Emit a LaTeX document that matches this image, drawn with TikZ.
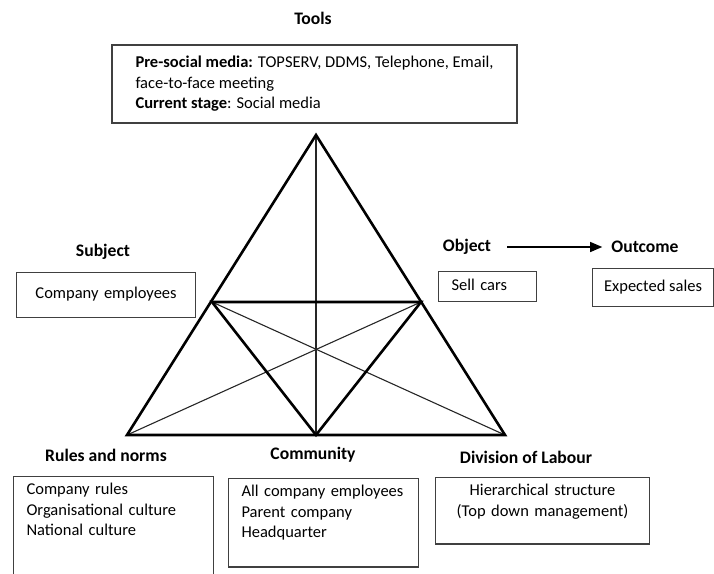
\documentclass[tikz,border=0pt]{standalone}
\usepackage{fontspec}
\setmainfont{Carlito}
\usetikzlibrary{arrows.meta}
\definecolor{boxline}{HTML}{404040}

\begin{document}
\begin{tikzpicture}[x=1pt, y=-1pt,
    font=\fontsize{16.5}{20.5}\selectfont,
    lbl/.style={font=\fontsize{17.6}{21}\selectfont\bfseries, inner sep=2pt},
    infobox/.style={rectangle, draw=boxline, line width=1.1pt, align=left, inner ysep=6.5pt},
    onebox/.style={infobox, anchor=north west, text height=11pt, text depth=4pt},
    side/.style={line width=2.6pt},
    cross/.style={line width=1.1pt, draw=black!85}]
            \useasboundingbox (0,0) rectangle (714,573);

            \coordinate (top) at (316,135);
            \coordinate (bl) at (127,435);
            \coordinate (br) at (505,435);
            \coordinate (bm) at (316,435);
            \coordinate (lm) at (212,302);
            \coordinate (rm) at (421,302);

            \draw[cross] (top) -- (bm);
            \draw[cross] (lm) -- (br);
            \draw[cross] (rm) -- (bl);
            \draw[side] (top) -- (bl) -- (br) -- cycle;
            \draw[side] (lm) -- (rm) -- (bm) -- cycle;

            \node[lbl] (tools) at (313,18) {Tools};
            \node[infobox, minimum width=405pt, minimum height=78pt] (toolsbox) at (314.5,84)
                {\textbf{Pre-social media:} TOPSERV, DDMS, Telephone, Email,\\
                 face-to-face meeting\\
                 \textbf{Current stage}: Social media};

            \node[lbl] (subject) at (103,252) {Subject};
            \node[onebox, align=center, text width=159pt, inner xsep=10pt, minimum height=45pt] (subjectbox) at (16,272) {Company employees};

            \node[lbl] (object) at (467,247) {Object};
            \node[lbl] (outcome) at (645,247) {Outcome};
            \draw[-{Triangle[length=12pt,width=10pt]}, line width=1.1pt, shorten <=14pt, shorten >=7pt] (object) -- (outcome);
            \node[onebox, text width=72pt, inner xsep=13pt, minimum height=30pt] (objectbox) at (438,271) {Sell cars};
            \node[onebox, minimum width=121pt, minimum height=38pt] (outcomebox) at (592,268) {Expected sales};

            \node[lbl] (rules) at (106,455) {Rules and norms};
            \node[infobox, anchor=north west, text width=174pt, inner xsep=13pt, text depth=90pt] (rulesbox) at (13,476)
                {Company rules\\ Organisational culture\\ National culture};

            \node[lbl] (community) at (313,455) {Community};
            \node[infobox, anchor=north west, text width=164pt, inner xsep=13pt, text depth=64pt] (communitybox) at (228,478)
                {All company employees\\ Parent company\\ Headquarter};

            \node[lbl] (division) at (526,457) {Division of Labour};
            \node[infobox, anchor=north west, align=center, text width=194pt, inner xsep=10pt, text depth=42pt] (divisionbox) at (435,477)
                {Hierarchical structure\\ (Top down management)};
        \end{tikzpicture}
\end{document}
